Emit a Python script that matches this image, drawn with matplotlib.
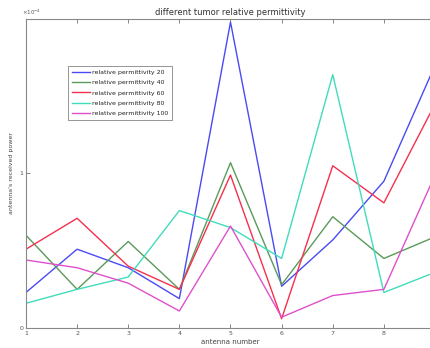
import matplotlib.pyplot as plt
import numpy as np

antenna = [1, 2, 3, 4, 5, 6, 7, 8, 9]
# received power in units of 1e-4
perm20 = [0.23, 0.51, 0.39, 0.19, 1.98, 0.27, 0.57, 0.95, 1.70]
perm40 = [0.60, 0.25, 0.56, 0.25, 1.07, 0.28, 0.72, 0.45, 0.59]
perm60 = [0.51, 0.71, 0.40, 0.25, 0.99, 0.06, 1.05, 0.81, 1.45]
perm80 = [0.16, 0.25, 0.33, 0.76, 0.65, 0.45, 1.64, 0.23, 0.36]
perm100 = [0.44, 0.39, 0.29, 0.11, 0.66, 0.07, 0.21, 0.25, 0.99]

series = [
    ("relative permittivity 20", perm20, "#4a4af5"),
    ("relative permittivity 40", perm40, "#5a9a5a"),
    ("relative permittivity 60", perm60, "#f5304e"),
    ("relative permittivity 80", perm80, "#40dcbc"),
    ("relative permittivity 100", perm100, "#e050cc"),
]

fig = plt.figure(figsize=(4.31, 3.48), dpi=100)
ax = fig.add_axes([0.0603, 0.0575, 0.949, 0.8879])

for label, vals, color in series:
    ax.plot(antenna, np.array(vals) * 1e-4, color=color, linewidth=1.0, label=label)

ax.set_xlim(1, 9)
ax.set_ylim(0, 2e-4)
ax.set_xticks(antenna)
# the 9 label sits outside the cropped image in the reference
ax.set_xticklabels([str(a) for a in antenna[:-1]] + [""])
ax.set_yticks([0, 1e-4, 2e-4])
ax.set_yticklabels(["0", "1", ""])
ax.text(-0.01, 1.008, r"$\times10^{-4}$", transform=ax.transAxes,
        fontsize=4, color="#555555", ha="left", va="bottom")

ax.tick_params(direction="in", top=True, right=True, length=3, width=0.5,
               labelsize=4.5, colors="#555555", pad=2)
for s in ax.spines.values():
    s.set_color("#888888")
    s.set_linewidth(0.8)

ax.set_title("different tumor relative permittivity", fontsize=6, color="#333333", pad=3)
ax.set_xlabel("antenna number", fontsize=5, color="#444444", labelpad=2)
ax.set_ylabel("antenna's received power", fontsize=4.5, color="#444444", labelpad=4)

leg = ax.legend(loc="upper left", bbox_to_anchor=(0.103, 0.848), fontsize=4.5,
                frameon=True, fancybox=False, edgecolor="#666666", borderaxespad=0,
                handlelength=3.0, borderpad=0.55, labelspacing=0.8, handletextpad=0.3)
leg.get_frame().set_linewidth(0.6)
for t in leg.get_texts():
    t.set_color("#222222")

fig.savefig("out.png", dpi=100)
